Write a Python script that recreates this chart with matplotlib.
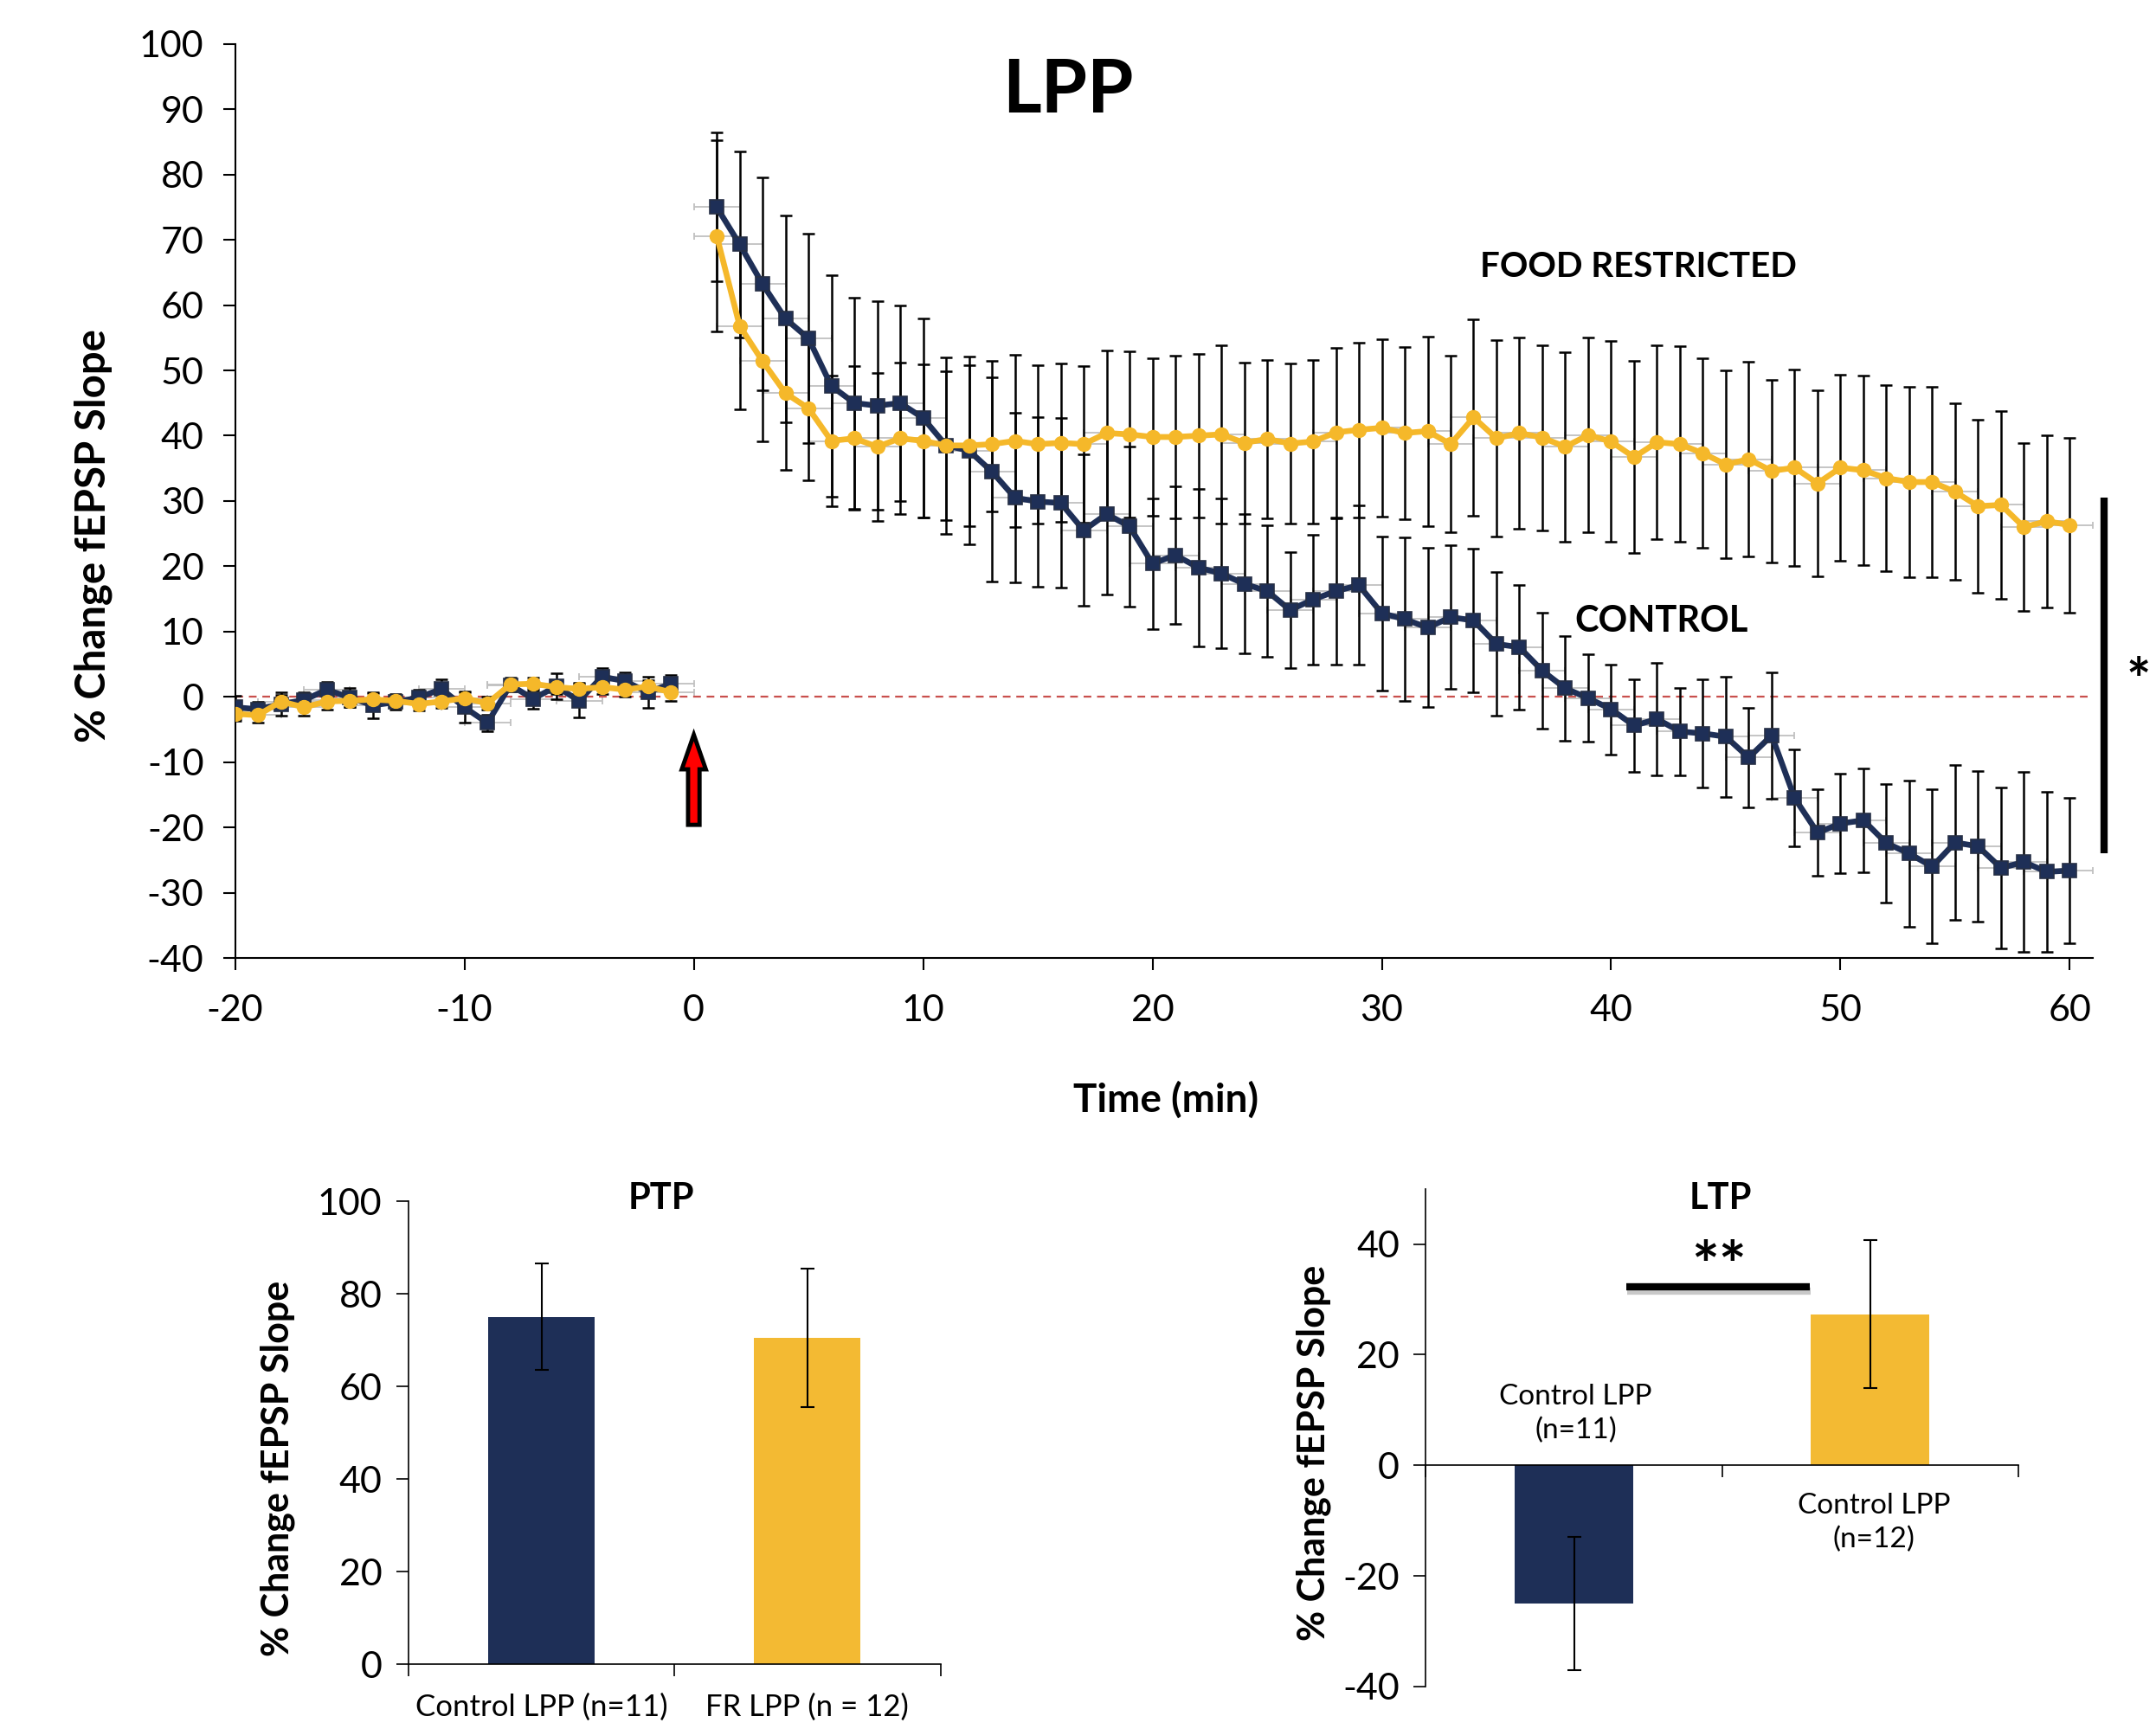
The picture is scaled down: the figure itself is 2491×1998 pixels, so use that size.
import matplotlib
matplotlib.use('Agg')
import matplotlib.pyplot as plt
from matplotlib.patches import FancyArrow

plt.rcParams['font.family'] = ['Lato', 'DejaVu Sans']
plt.rcParams['axes.unicode_minus'] = False

# ---------------- data ----------------
time_base = [-20, -19, -18, -17, -16, -15, -14, -13, -12, -11,
             -10, -9, -8, -7, -6, -5, -4, -3, -2, -1]
time_post = [1, 2, 3, 4, 5, 6, 7, 8, 9, 10,
             11, 12, 13, 14, 15, 16, 17, 18, 19, 20,
             21, 22, 23, 24, 25, 26, 27, 28, 29, 30,
             31, 32, 33, 34, 35, 36, 37, 38, 39, 40,
             41, 42, 43, 44, 45, 46, 47, 48, 49, 50,
             51, 52, 53, 54, 55, 56, 57, 58, 59, 60]

ctrl_base = [-1.6, -1.9, -1.1, -0.5, 1.1, -0.1, -1.3, -0.8, -0.1, 1.2,
             -1.6, -4.0, 1.8, -0.3, 1.6, -0.6, 3.1, 2.4, 0.7, 2.0]
ctrl_base_err = [1.8, 1.1, 1.8, 1.2, 1.2, 1.5, 2.0, 1.1, 1.2, 1.5,
                 2.3, 1.2, 1.0, 1.5, 2.0, 2.6, 1.3, 1.3, 2.4, 1.3]
fr_base = [-2.6, -2.8, -0.7, -1.6, -0.7, -0.6, -0.4, -0.6, -1.1, -0.7,
           -0.2, -1.0, 1.9, 2.0, 1.5, 1.2, 1.5, 1.1, 1.6, 0.7]
fr_base_err = [1.1, 1.1, 1.0, 1.3, 1.2, 1.0, 1.0, 1.0, 1.0, 1.0,
               1.0, 1.0, 1.0, 1.0, 1.0, 1.0, 1.0, 1.0, 1.0, 1.3]

ctrl_post = [75.0, 69.3, 63.2, 57.9, 54.9, 47.6, 45.0, 44.6, 45.0, 42.7,
             38.5, 37.7, 34.5, 30.5, 29.9, 29.7, 25.5, 28.0, 26.1, 20.4,
             21.7, 19.8, 18.9, 17.3, 16.2, 13.3, 14.9, 16.2, 17.1, 12.8,
             11.9, 10.6, 12.2, 11.7, 8.1, 7.6, 4.0, 1.3, -0.2, -1.9,
             -4.4, -3.4, -5.3, -5.6, -6.1, -9.3, -5.9, -15.5, -20.8, -19.4,
             -18.9, -22.4, -24.0, -26.0, -22.3, -22.9, -26.2, -25.3, -26.8, -26.6]
ctrl_post_err = [11.4, 14.2, 16.3, 15.8, 16.0, 17.0, 16.2, 16.0, 15.0, 15.2,
                 13.5, 14.4, 16.9, 13.0, 13.0, 13.0, 11.6, 12.3, 12.3, 10.0,
                 10.5, 12.1, 11.5, 10.7, 10.1, 8.9, 9.9, 11.2, 12.2, 11.8,
                 12.5, 12.2, 11.0, 11.0, 11.0, 9.5, 8.9, 8.0, 6.7, 6.9,
                 7.1, 8.6, 6.7, 8.3, 9.2, 7.6, 9.7, 7.4, 6.6, 7.6,
                 8.0, 9.1, 11.2, 11.8, 11.9, 11.5, 12.3, 13.8, 12.2, 11.1]
fr_post = [70.6, 56.8, 51.4, 46.5, 44.2, 39.2, 39.6, 38.3, 39.6, 39.2,
           38.5, 38.5, 38.7, 39.2, 38.7, 38.9, 38.7, 40.4, 40.2, 39.8,
           39.8, 40.0, 40.2, 38.9, 39.5, 38.8, 39.1, 40.5, 40.9, 41.2,
           40.4, 40.7, 38.7, 42.8, 39.6, 40.4, 39.7, 38.3, 40.1, 39.1,
           36.7, 39.0, 38.7, 37.3, 35.6, 36.4, 34.6, 35.1, 32.7, 35.1,
           34.7, 33.5, 32.9, 32.9, 31.4, 29.2, 29.4, 26.0, 26.9, 26.3]
fr_post_err = [14.7, 12.7, 12.2, 11.7, 11.0, 10.0, 11.0, 11.3, 11.6, 11.7,
               11.4, 12.3, 10.3, 13.2, 12.1, 12.1, 12.0, 12.6, 12.7, 12.1,
               12.5, 12.5, 13.7, 12.3, 12.1, 12.3, 12.5, 13.0, 13.4, 13.6,
               13.2, 14.5, 13.5, 15.0, 15.0, 14.7, 14.2, 14.5, 14.9, 15.4,
               14.7, 14.8, 15.0, 14.5, 14.4, 14.9, 14.0, 15.1, 14.3, 14.3,
               14.5, 14.3, 14.6, 14.6, 13.5, 13.2, 14.4, 12.9, 13.2, 13.4]
time_xerr = 1.0

x_ticks = [-20, -10, 0, 10, 20, 30, 40, 50, 60]
y_ticks = [-40, -30, -20, -10, 0, 10, 20, 30, 40, 50, 60, 70, 80, 90, 100]

ptp_labels = ['Control LPP (n=11)', 'FR LPP (n = 12)']
ptp_vals = [75.0, 70.5]
ptp_err = [11.5, 15.0]

ltp_labels = ['Control LPP\n(n=11)', 'Control LPP\n(n=12)']
ltp_vals = [-25.0, 27.3]
ltp_err = [12.0, 13.4]

NAVY = '#1e2f57'
GOLD = '#f3ba33'
LINE_GOLD = '#f5b82a'

fig = plt.figure(figsize=(24.91, 19.98), dpi=100)

# ---------------- main time-course ----------------
ax = fig.add_axes([0.10906, 0.4459, 0.8616, 0.5287])
ax.set_xlim(-20, 61)
ax.set_ylim(-40, 100)

for tt, yy, ee in [(time_base, ctrl_base, ctrl_base_err), (time_post, ctrl_post, ctrl_post_err),
                   (time_base, fr_base, fr_base_err), (time_post, fr_post, fr_post_err)]:
    ax.errorbar(tt, yy, xerr=time_xerr, fmt='none', ecolor='#c0c0c0', elinewidth=1.3,
                capsize=3, capthick=1.3, zorder=1)
    ax.errorbar(tt, yy, yerr=ee, fmt='none', ecolor='black', elinewidth=1.8,
                capsize=5, capthick=1.8, zorder=2)

ax.plot([-20, 60.9], [0, 0], color='#c9504d', lw=1.6, dashes=(4, 3), zorder=1.5)

for tt, yy in [(time_base, ctrl_base), (time_post, ctrl_post)]:
    ax.plot(tt, yy, color=NAVY, lw=4.8, marker='s', ms=12, mfc=NAVY, mec='#262f45',
            mew=1.2, zorder=3)
for tt, yy in [(time_base, fr_base), (time_post, fr_post)]:
    ax.plot(tt, yy, color=LINE_GOLD, lw=4.8, marker='o', ms=11.5, mfc=LINE_GOLD,
            mec=LINE_GOLD, zorder=4)

arrow = FancyArrow(0, -19.6, 0, 13.8, width=0.5, head_width=1.05, head_length=5.3,
                   length_includes_head=True, fc='#ff0000', ec='black', lw=3.5, zorder=5)
ax.add_patch(arrow)

ax.plot([61.5, 61.5], [30.5, -24.0], color='black', lw=6, solid_capstyle='butt',
        clip_on=False, zorder=5)
ax.text(63.0, 2.0, '*', fontsize=48, fontweight='bold', ha='center', va='center',
        clip_on=False)

ax.text(16.3, 92.8, 'LPP', fontsize=62, fontweight='bold', ha='center', va='center')
ax.text(41.2, 65.9, 'FOOD RESTRICTED', fontsize=29, fontweight='bold', ha='center', va='center')
ax.text(42.2, 11.6, 'CONTROL', fontsize=30, fontweight='bold', ha='center', va='center')

ax.set_xticks(x_ticks)
ax.set_yticks(y_ticks)
ax.tick_params(axis='both', direction='out', length=10, width=1.5, labelsize=31)
ax.tick_params(axis='y', pad=16)
ax.tick_params(axis='x', pad=20)
for s in ['top', 'right']:
    ax.spines[s].set_visible(False)
for s in ['left', 'bottom']:
    ax.spines[s].set_linewidth(1.5)
ax.set_xlabel('Time (min)', fontsize=33, fontweight='bold')
ax.xaxis.set_label_coords(0.501, -0.135)
ax.set_ylabel('% Change fEPSP Slope', fontsize=34, fontweight='bold')
ax.yaxis.set_label_coords(-0.066, 0.462)

# ---------------- PTP bar chart ----------------
axp = fig.add_axes([0.18941, 0.03736, 0.24681, 0.26789])
axp.bar([0, 1], ptp_vals, width=0.4, color=[NAVY, GOLD], zorder=2)
axp.errorbar([0, 1], ptp_vals, yerr=ptp_err, fmt='none', ecolor='black', elinewidth=1.5,
             capsize=6, capthick=1.5, zorder=3)
axp.set_xlim(-0.5, 1.5)
axp.set_ylim(0, 100)
axp.set_yticks([0, 20, 40, 60, 80, 100])
axp.set_xticks([-0.5, 0.5, 1.5])
axp.set_xticklabels([])
axp.set_xticks([0, 1], minor=True)
axp.set_xticklabels(ptp_labels, minor=True)
axp.tick_params(axis='x', which='minor', length=0, labelsize=25, pad=24)
axp.tick_params(axis='x', which='major', direction='out', length=10, width=1.2)
axp.tick_params(axis='y', direction='out', length=10, width=1.2, labelsize=31, pad=12)
for s in ['top', 'right']:
    axp.spines[s].set_visible(False)
for s in ['left', 'bottom']:
    axp.spines[s].set_linewidth(1.2)
axp.text(0.451, 100.6, 'PTP', fontsize=30, fontweight='bold', ha='center', va='center',
         clip_on=False)
axp.set_ylabel('% Change fEPSP Slope', fontsize=31, fontweight='bold')
axp.yaxis.set_label_coords(-0.212, 0.424)

# ---------------- LTP bar chart ----------------
axl = fig.add_axes([0.66135, 0.02464, 0.27487, 0.28776])
axl.bar([0, 1], ltp_vals, width=0.4, color=[NAVY, GOLD], zorder=2)
axl.errorbar([0, 1], ltp_vals, yerr=ltp_err, fmt='none', ecolor='black', elinewidth=1.5,
             capsize=6, capthick=1.5, zorder=3)
axl.set_xlim(-0.5, 1.5)
axl.set_ylim(-40, 50)
axl.set_yticks([-40, -20, 0, 20, 40])
axl.spines['bottom'].set_position(('data', 0))
axl.set_xticks([-0.5, 0.5, 1.5])
axl.set_xticklabels([])
axl.tick_params(axis='x', direction='out', length=10, width=1.2)
axl.tick_params(axis='y', direction='out', length=10, width=1.2, labelsize=31, pad=12)
for s in ['top', 'right']:
    axl.spines[s].set_visible(False)
for s in ['left', 'bottom']:
    axl.spines[s].set_linewidth(1.2)
axl.text(0.006, 9.4, ltp_labels[0], fontsize=24, ha='center', va='center', linespacing=1.35)
axl.text(1.013, -10.4, ltp_labels[1], fontsize=24, ha='center', va='center', linespacing=1.35)
axl.plot([0.18, 0.798], [31.5, 31.5], color='#c8c8c8', lw=6, solid_capstyle='butt', zorder=3)
axl.plot([0.177, 0.795], [32.3, 32.3], color='black', lw=6, solid_capstyle='butt', zorder=4)
axl.text(0.488, 35.5, '**', fontsize=54, fontweight='bold', ha='center', va='center')
axl.text(0.493, 48.2, 'LTP', fontsize=30, fontweight='bold', ha='center', va='center',
         clip_on=False)
axl.set_ylabel('% Change fEPSP Slope', fontsize=31, fontweight='bold')
axl.yaxis.set_label_coords(-0.16, 0.47)

fig.savefig('out.png', dpi=100, facecolor='white')
